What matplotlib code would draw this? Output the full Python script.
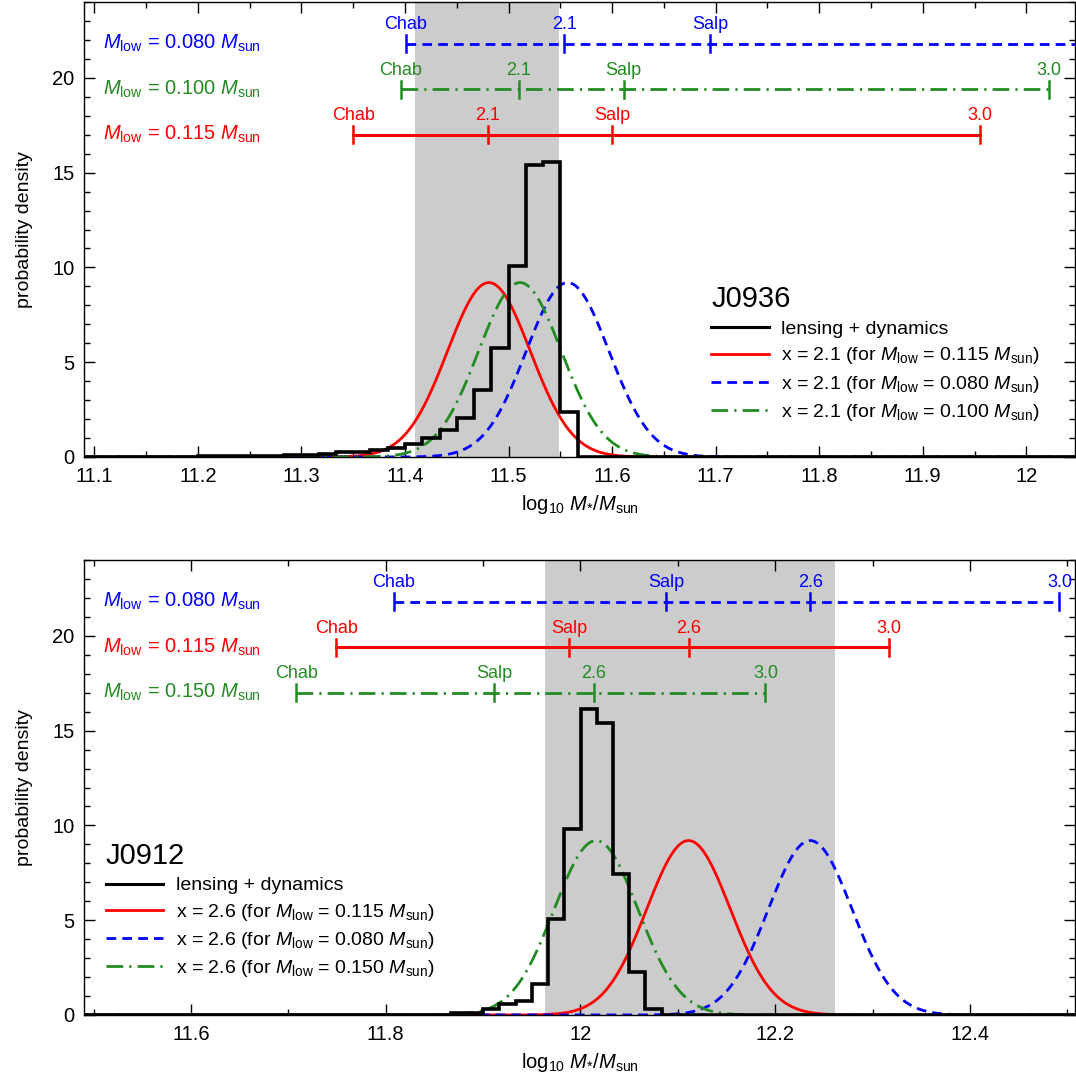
import numpy as np
import matplotlib
matplotlib.use('Agg')
import matplotlib.pyplot as plt
from matplotlib.ticker import MultipleLocator, FuncFormatter
import matplotlib.transforms as mtrans

plt.rcParams['font.family'] = ['Liberation Sans', 'DejaVu Sans']
plt.rcParams['mathtext.fontset'] = 'custom'
plt.rcParams['mathtext.rm'] = 'Liberation Sans'
plt.rcParams['mathtext.it'] = 'Liberation Sans:italic'
plt.rcParams['mathtext.bf'] = 'Liberation Sans:bold'

RED, BLUE, GREEN = '#ff0000', '#0000ff', '#228b22'

# ---------------- data: J0936 ----------------
j0936_xlim = (11.09, 12.047)
j0936_hist_start = 11.2
hist_bin = 1.0 / 60.0
j0936_hist = [0.04, 0.04, 0.04, 0.07, 0.07, 0.12, 0.12, 0.17, 0.25, 0.25, 0.36,
              0.49, 0.66, 0.99, 1.43, 2.04, 3.54, 5.77, 10.1, 15.42, 15.55, 2.4]
j0936_shade = (11.41, 11.549)
j0936_mlow = ['0.115', '0.080', '0.100']
j0936_mu = [11.481, 11.557, 11.511]
j0936_sigma = [0.040, 0.040, 0.040]
j0936_peak = [9.2, 9.2, 9.2]
j0936_x = '2.1'
# IMF bars: (Mlow, y, labels, positions)
j0936_bar_mlow = ['0.080', '0.100', '0.115']
j0936_bar_y = [21.8, 19.4, 17.0]
j0936_bar_labels = [['Chab', '2.1', 'Salp', '3.0'],
                    ['Chab', '2.1', 'Salp', '3.0'],
                    ['Chab', '2.1', 'Salp', '3.0']]
j0936_bar_pos = [[11.401, 11.554, 11.6945, 12.09],
                 [11.396, 11.510, 11.611, 12.022],
                 [11.350, 11.480, 11.600, 11.955]]

# ---------------- data: J0912 ----------------
j0912_xlim = (11.49, 12.508)
j0912_hist_start = 11.8667
j0912_hist = [0.08, 0.12, 0.3, 0.6, 0.72, 1.63, 5.09, 9.82, 16.14, 15.4,
              7.46, 2.28, 0.3]
j0912_shade = (11.964, 12.261)
j0912_mlow = ['0.115', '0.080', '0.150']
j0912_mu = [12.111, 12.236, 12.016]
j0912_sigma = [0.043, 0.043, 0.043]
j0912_peak = [9.2, 9.2, 9.2]
j0912_x = '2.6'
j0912_bar_mlow = ['0.080', '0.115', '0.150']
j0912_bar_y = [21.8, 19.4, 17.0]
j0912_bar_labels = [['Chab', 'Salp', '2.6', '3.0'],
                    ['Chab', 'Salp', '2.6', '3.0'],
                    ['Chab', 'Salp', '2.6', '3.0']]
j0912_bar_pos = [[11.808, 12.088, 12.236, 12.492],
                 [11.749, 11.988, 12.111, 12.317],
                 [11.708, 11.911, 12.014, 12.190]]

STYLE = {'0.115': dict(color=RED, ls='-'),
         '0.080': dict(color=BLUE, ls=(0, (3.5, 2.2))),
         '0.100': dict(color=GREEN, ls=(0, (6.0, 2.2, 0.8, 2.2))),
         '0.150': dict(color=GREEN, ls=(0, (6.0, 2.2, 0.8, 2.2)))}

W, H = 1076, 1080
fig = plt.figure(figsize=(W / 100, H / 100), dpi=100)


def panel(rect, name, xlim, hist_start, hist, shade, mlow, mu, sigma, peak, xval,
          bar_mlow, bar_y, bar_labels, bar_pos, major, minor, leg_anchor):
    ax = fig.add_axes(rect)
    ax.set_xlim(*xlim)
    ax.set_ylim(0, 24)
    ax.axvspan(shade[0], shade[1], color='#cccccc', lw=0, zorder=0)

    xx = np.linspace(xlim[0], xlim[1], 1500)
    handles = []
    hk, = ax.plot([], [], color='k', lw=2.2, label='lensing + dynamics')
    handles.append(hk)
    for m, mu_, s_, p_ in zip(mlow, mu, sigma, peak):
        st = STYLE[m]
        yy = p_ * np.exp(-0.5 * ((xx - mu_) / s_) ** 2)
        h, = ax.plot(xx, yy, color=st['color'], ls=st['ls'], lw=2.0, zorder=2,
                     label=r'x = %s (for $M_{\rm low}$ = %s $M_{\rm sun}$)' % (xval, m))
        handles.append(h)

    n = len(hist)
    edges = hist_start + hist_bin * np.arange(n + 1)
    e = np.concatenate([[xlim[0]], edges, [xlim[1]]])
    v = np.concatenate([[0], hist, [0]])
    ax.stairs(v, e, color='k', lw=2.6, zorder=3, baseline=None)

    trans = mtrans.blended_transform_factory(ax.transAxes, ax.transData)
    for m, yb, labs, pos in zip(bar_mlow, bar_y, bar_labels, bar_pos):
        st = STYLE[m]
        ax.plot([pos[0], pos[-1]], [yb, yb], color=st['color'], ls=st['ls'],
                lw=2.2 if st['ls'] == '-' else 2.0, zorder=4)
        for lb, xp in zip(labs, pos):
            ax.plot([xp, xp], [yb - 0.45, yb + 0.45], color=st['color'], lw=1.8,
                    zorder=4)
            if xlim[0] <= xp <= xlim[1]:
                ax.text(xp, yb + 0.55, lb, color=st['color'], ha='center',
                        va='bottom', fontsize=13, clip_on=True, zorder=5)
        ax.text(0.019, yb, r'$M_{\rm low}$ = %s $M_{\rm sun}$' % m,
                color=st['color'], transform=trans, ha='left', va='center',
                fontsize=14.5)

    ax.xaxis.set_major_locator(MultipleLocator(major))
    ax.xaxis.set_minor_locator(MultipleLocator(minor))
    ax.yaxis.set_major_locator(MultipleLocator(5))
    ax.yaxis.set_minor_locator(MultipleLocator(1))
    ax.xaxis.set_major_formatter(FuncFormatter(lambda v, p: '%g' % round(v, 3)))
    ax.tick_params(which='both', direction='in', top=True, right=True,
                   labelsize=14.5, width=1.0)
    ax.tick_params(which='major', length=8, pad=7)
    ax.tick_params(which='minor', length=4)
    for sp in ax.spines.values():
        sp.set_linewidth(1.0)
    ax.set_xlabel(r'log$_{10}$ $M_{*}/M_{\rm sun}$', fontsize=14.5, labelpad=5)
    ax.set_ylabel('probability density', fontsize=14, labelpad=14)

    ax.legend(handles=handles, loc='upper left', bbox_to_anchor=leg_anchor,
              frameon=False, fontsize=14, title=name, title_fontsize=21,
              alignment='left', handlelength=2.95, handletextpad=0.65,
              labelspacing=0.37, borderpad=0, borderaxespad=0)
    return ax


panel([84 / W, 1 - 457 / H, 991 / W, 455 / H], 'J0936', j0936_xlim,
      j0936_hist_start, j0936_hist, j0936_shade, j0936_mlow, j0936_mu,
      j0936_sigma, j0936_peak, j0936_x, j0936_bar_mlow, j0936_bar_y,
      j0936_bar_labels, j0936_bar_pos, 0.1, 0.05, (0.633, 0.377))

panel([84 / W, 1 - 1015 / H, 991 / W, 455 / H], 'J0912', j0912_xlim,
      j0912_hist_start, j0912_hist, j0912_shade, j0912_mlow, j0912_mu,
      j0912_sigma, j0912_peak, j0912_x, j0912_bar_mlow, j0912_bar_y,
      j0912_bar_labels, j0912_bar_pos, 0.2, 0.1, (0.022, 0.381))

fig.savefig('out.png', dpi=100)
